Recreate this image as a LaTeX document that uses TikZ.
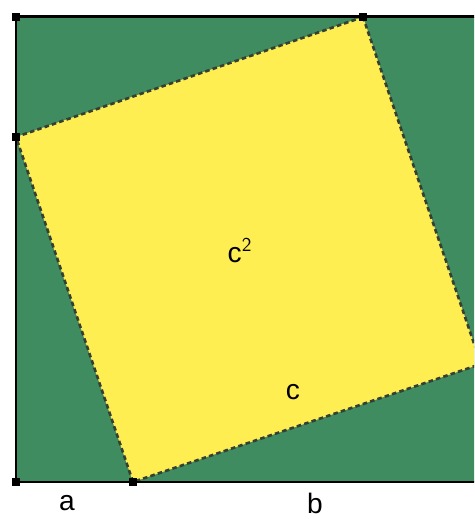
\documentclass[tikz,border=0pt]{standalone}
\usepackage{fontspec}
\setmainfont{Liberation Sans}
\definecolor{rasen}{RGB}{62,140,96}
\definecolor{gelb}{RGB}{255,238,82}
\definecolor{kante}{RGB}{55,62,50}
\begin{document}
\begin{tikzpicture}[x=0.02cm, y=-0.02cm,
    every node/.style={font=\fontsize{16}{18}\selectfont},
    rahmen/.style={line width=1.7pt, black},
    seite/.style={kante, line width=1.5pt, dash pattern=on 2.6pt off 1.8pt}]
    \useasboundingbox (0,0) rectangle (474,519);
    \clip (0,0) rectangle (474,519);
    % Ecken
    \coordinate (O) at (16,17);
    \coordinate (U) at (16,482);
    \coordinate (R) at (481,482);
    \coordinate (Q) at (481,17);
    \coordinate (P1) at (363,17);
    \coordinate (P2) at (16,137);
    \coordinate (P3) at (133,482);
    \coordinate (P4) at (481,364);

    % Flaechen
    \fill[rasen] (O) rectangle (R);
    \fill[gelb] (P1) -- (P2) -- (P3) -- (P4) -- cycle;
    \draw[seite] (P1) -- (P2) -- (P3) -- (P4) -- cycle;

    % Rahmen
    \draw[rahmen] (Q) -- (O) -- (U) -- (R);
    \foreach \p in {O,U,P1,P2,P3}
        \fill (\p) ++(-4,-4) rectangle ++(8,8);

    % Beschriftung
    \node (la) at (67,503) {a};
    \node (lb) at (315,503) {b};
    \node (lc2) at (240,250) {c$^{\mathsf{2}}$};
    \node (lc) at (293,392) {c};
\end{tikzpicture}
\end{document}
